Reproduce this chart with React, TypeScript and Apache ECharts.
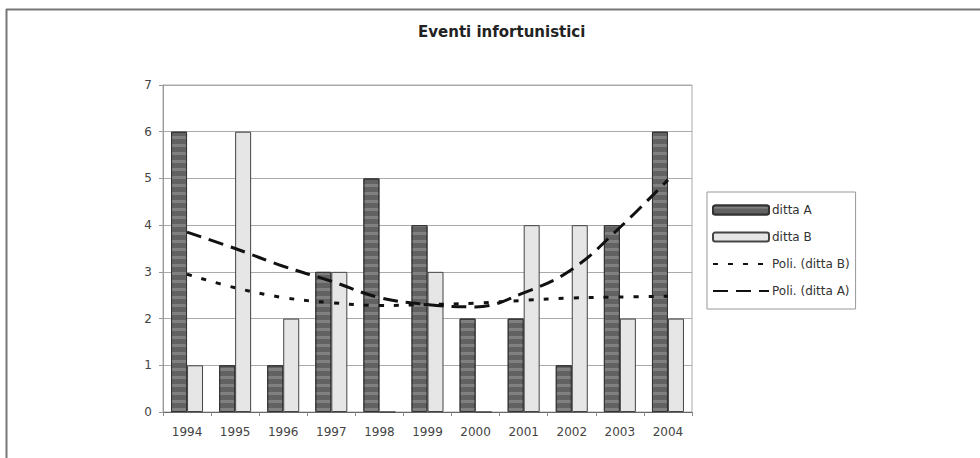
import React, { useEffect, useRef } from "react";
import * as echarts from "echarts";

const years = ["1994", "1995", "1996", "1997", "1998", "1999", "2000", "2001", "2002", "2003", "2004"];
const dittaA = [6, 1, 1, 3, 5, 4, 2, 2, 1, 4, 6];
const dittaB = [1, 6, 2, 3, 0, 3, 0, 4, 4, 2, 2];
const poliB = [2.95, 2.66, 2.45, 2.34, 2.28, 2.3, 2.33, 2.39, 2.44, 2.46, 2.48];
const poliA = [3.85, 3.5, 3.12, 2.8, 2.45, 2.3, 2.25, 2.55, 3.05, 3.95, 4.97];
const yTicks = [0, 1, 2, 3, 4, 5, 6, 7];

export default function App() {
  const ref = useRef<HTMLDivElement>(null);
  useEffect(() => {
    document.body.style.margin = "0";
    const chart = echarts.init(ref.current!, null, { renderer: "svg" });
    const font = "'DejaVu Sans', Arial, sans-serif";
    chart.setOption({
      animation: false,
      backgroundColor: "#ffffff",
      textStyle: { fontFamily: font },
      title: {
        text: "Eventi infortunistici",
        left: 413,
        top: 19,
        textStyle: { fontSize: 15, fontWeight: "bold", color: "#222", fontFamily: font },
      },
      grid: {
        left: 163,
        right: 288,
        top: 85,
        bottom: 46,
        show: true,
        borderColor: "#aaaaaa",
        borderWidth: 1,
      },
      legend: {
        orient: "vertical",
        left: 707,
        top: 192,
        width: 155,
        padding: [12, 6, 12, 5],
        itemGap: 15,
        itemWidth: 56,
        itemHeight: 9,
        borderColor: "#999",
        borderWidth: 1,
        textStyle: { fontSize: 12, color: "#333", fontFamily: font, padding: [0, 0, 0, -2] },
        data: [
          { name: "ditta A" },
          { name: "ditta B" },
          { name: "Poli. (ditta B)", itemStyle: { opacity: 0 } },
          { name: "Poli. (ditta A)", itemStyle: { opacity: 0 } },
        ],
      },
      xAxis: {
        type: "category",
        data: years,
        boundaryGap: true,
        axisLine: { lineStyle: { color: "#666" } },
        axisTick: { show: true, length: 4, lineStyle: { color: "#888" } },
        axisLabel: { fontSize: 12, color: "#444", margin: 14, fontFamily: font },
        splitLine: { show: false },
      },
      yAxis: {
        type: "value",
        min: yTicks[0],
        max: yTicks[yTicks.length - 1],
        interval: 1,
        axisLine: { show: true, lineStyle: { color: "#999" } },
        axisTick: { show: true, length: 4, lineStyle: { color: "#999" } },
        axisLabel: { fontSize: 12, color: "#444", margin: 11, fontFamily: font },
        splitLine: { show: true, lineStyle: { color: "#aaaaaa", width: 1 } },
      },
      series: [
        {
          name: "ditta A",
          type: "bar",
          data: dittaA,
          barWidth: 16,
          barGap: "0%",
          itemStyle: {
            color: "#626262",
            borderColor: "#333",
            borderWidth: 1,
            decal: {
              symbol: "rect",
              color: "rgba(200,200,200,0.3)",
              dashArrayX: [1, 0],
              dashArrayY: [3, 5],
              rotation: 0,
              symbolSize: 1,
            },
          },
        },
        {
          name: "ditta B",
          type: "bar",
          data: dittaB,
          barWidth: 16,
          barGap: "0%",
          itemStyle: {
            color: "#e6e6e6",
            borderColor: "#444",
            borderWidth: 1,
          },
        },
        {
          name: "Poli. (ditta B)",
          type: "line",
          data: poliB,
          smooth: 0.4,
          symbol: "none",
          z: 5,
          itemStyle: { color: "#111" },
          lineStyle: { color: "#111", width: 3, type: [5, 10] },
        },
        {
          name: "Poli. (ditta A)",
          type: "line",
          data: poliA,
          smooth: 0.4,
          symbol: "none",
          z: 5,
          itemStyle: { color: "#111" },
          lineStyle: { color: "#111", width: 3, type: [15, 8] },
        },
      ],
      graphic: [
        { type: "line", shape: { x1: 6, y1: 9.5, x2: 980, y2: 9.5 }, style: { stroke: "#777", lineWidth: 2 } },
        { type: "line", shape: { x1: 6.5, y1: 9, x2: 6.5, y2: 458 }, style: { stroke: "#777", lineWidth: 2 } },
      ],
    });
    return () => chart.dispose();
  }, []);
  return <div ref={ref} style={{ width: 980, height: 458 }} />;
}
